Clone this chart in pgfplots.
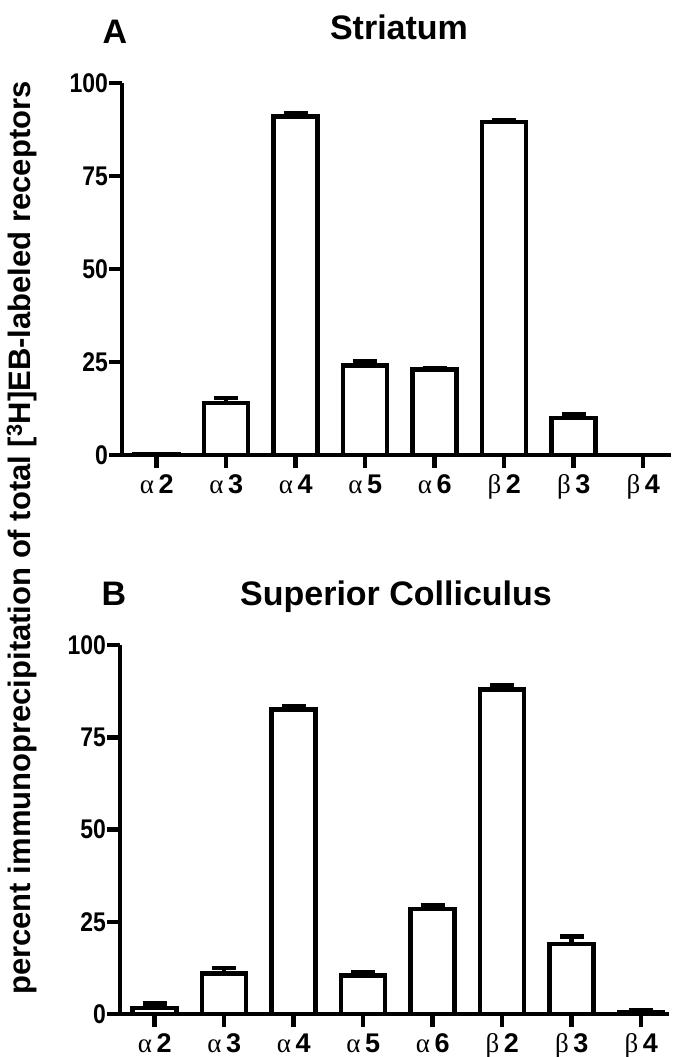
\documentclass[border=0pt]{standalone}
\usepackage{fontspec}
\setmainfont{Liberation Sans}
\newfontfamily\grk{Liberation Serif}
\newfontfamily\tickfont{Liberation Sans}[FakeStretch=0.85]
\usepackage{pgfplots}
\pgfplotsset{compat=1.18}

\newcommand\ga[1]{{\grk\mdseries α}\,#1}
\newcommand\gb[1]{{\grk\mdseries β}\,#1}

\pgfplotsset{panel/.style={
  scale only axis, width=549pt, height=372pt,
  xmin=-0.5, xmax=7.4, ymin=0, ymax=100,
  axis x line=bottom, axis y line=left,
  axis line style={-, line width=4.5pt},
  ytick={0,25,50,75,100}, xtick={0,...,7},
  xticklabels={\ga2,\ga3,\ga4,\ga5,\ga6,\gb2,\gb3,\gb4},
  tick align=outside, major tick length=13pt,
  tick style={line width=4.5pt, black},
  /pgf/number format/assume math mode=true,
  yticklabel style={font=\tickfont\bfseries\fontsize{27}{27}\selectfont, inner sep=1pt},
  xticklabel style={font=\bfseries\fontsize{27}{27}\selectfont, inner sep=2pt,
    text height=20pt, text depth=6pt, yshift=-3pt},
  ybar, bar width=44pt,
}}
\pgfplotsset{bars/.style={fill=white, draw=black, line width=4.5pt,
  error bars/.cd, y dir=plus, y explicit,
  error bar style={line width=4.5pt},
  error mark options={rotate=90, mark size=12pt, line width=4.5pt}}}

\begin{document}
\begin{tikzpicture}
\useasboundingbox (0pt,-1057pt) rectangle (675pt,0pt);

% A: Striatum
\begin{axis}[panel, at={(122pt,-455pt)}, anchor=south west]
\addplot[bars] coordinates {
  (0,0.3) +- (0,0) (1,14) +- (0,1.3) (2,91) +- (0,1.0) (3,24) +- (0,1.3)
  (4,23) +- (0,0.4) (5,89.5) +- (0,0.5) (6,10) +- (0,0.9) (7,0) +- (0,0)};
\end{axis}

% B: Superior Colliculus
\begin{axis}[panel, height=369pt, at={(120pt,-1014pt)}, anchor=south west]
\addplot[bars] coordinates {
  (0,1.6) +- (0,1.2) (1,11) +- (0,1.5) (2,82.5) +- (0,1.0) (3,10.5) +- (0,0.7)
  (4,28.5) +- (0,1.0) (5,88) +- (0,1.2) (6,19) +- (0,2.0) (7,0.5) +- (0,0.5)};
\end{axis}

\node[anchor=base, font=\bfseries\fontsize{34}{34}\selectfont] at (115pt,-44pt) {A};
\node[anchor=base, font=\bfseries\fontsize{34}{34}\selectfont] at (399pt,-40pt) {Striatum};
\node[anchor=base, font=\bfseries\fontsize{34}{34}\selectfont] at (114pt,-605pt) {B};
\node[anchor=base, font=\bfseries\fontsize{34}{34}\selectfont] at (396pt,-605pt) {Superior Colliculus};
\node[rotate=90, font=\bfseries\fontsize{31}{31}\selectfont] at (22pt,-538pt)
  {percent immunoprecipitation of total [\textsuperscript{3}H]EB-labeled receptors};
\end{tikzpicture}
\end{document}
